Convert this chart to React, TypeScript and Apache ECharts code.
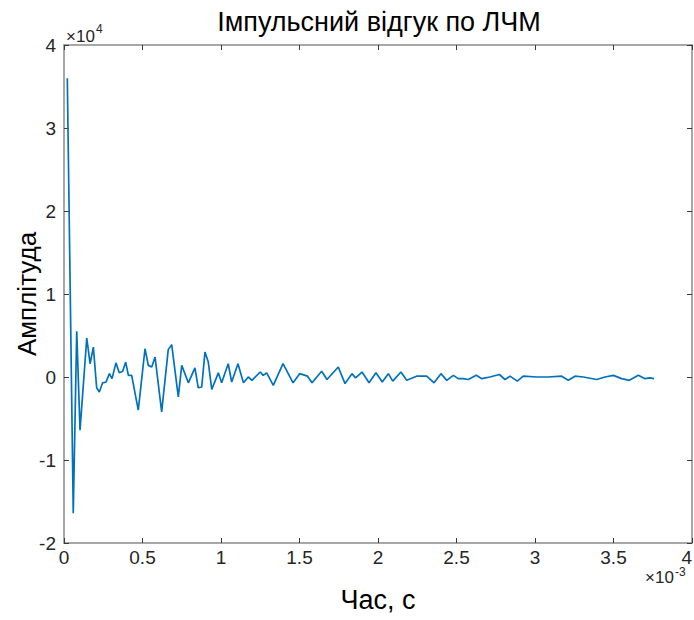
import React, { useEffect, useRef } from "react";
import * as echarts from "echarts";

// time in ms (axis shows ×10^-3 s), amplitude in units of 10^4
const timeMs = [
  0.021, 0.059, 0.081, 0.102, 0.145, 0.166, 0.187, 0.208, 0.225, 0.246,
  0.268, 0.289, 0.306, 0.331, 0.352, 0.374, 0.393, 0.41, 0.431, 0.473,
  0.516, 0.537, 0.559, 0.58, 0.622, 0.664, 0.686, 0.728, 0.75, 0.792,
  0.834, 0.855, 0.877, 0.898, 0.919, 0.941, 0.983, 1.004, 1.046, 1.068,
  1.108, 1.143, 1.174, 1.197, 1.25, 1.269, 1.291, 1.333, 1.395, 1.459,
  1.501, 1.551, 1.58, 1.641, 1.675, 1.747, 1.79, 1.834, 1.857, 1.898,
  1.943, 1.987, 2.027, 2.066, 2.094, 2.146, 2.183, 2.246, 2.31, 2.357,
  2.401, 2.438, 2.48, 2.511, 2.543, 2.575, 2.626, 2.661, 2.713, 2.773,
  2.809, 2.841, 2.887, 2.925, 3.011, 3.083, 3.17, 3.212, 3.255, 3.308,
  3.393, 3.446, 3.499, 3.552, 3.601, 3.658, 3.701, 3.732, 3.758,
];
const amplitude = [
  3.6, -1.64, 0.55, -0.64, 0.47, 0.16, 0.36, -0.13, -0.18, -0.07,
  -0.06, 0.04, -0.02, 0.17, 0.05, 0.07, 0.18, 0.02, 0.02, -0.4,
  0.34, 0.14, 0.12, 0.24, -0.42, 0.33, 0.39, -0.24, 0.14, -0.07,
  0.11, -0.13, -0.12, 0.3, 0.18, -0.15, 0.05, -0.07, 0.16, -0.06,
  0.16, -0.07, 0.0, -0.04, 0.06, 0.02, 0.05, -0.1, 0.16, -0.07,
  0.04, 0.01, -0.07, 0.07, -0.03, 0.12, -0.08, 0.04, -0.01, 0.06,
  -0.07, 0.05, -0.06, 0.04, -0.05, 0.06, -0.04, 0.01, 0.01, -0.07,
  0.04, -0.04, 0.02, -0.02, -0.02, -0.03, 0.02, -0.02, 0.0, 0.03,
  -0.03, 0.01, -0.05, 0.01, 0.0, 0.0, 0.01, -0.04, 0.01, 0.0,
  -0.03, 0.0, 0.02, -0.02, -0.04, 0.02, -0.02, -0.01, -0.02,
];

const xRange = [0, 4];
const xStep = 0.5;
const yRange = [-2, 4];
const yStep = 1;

const titleText = "Імпульсний відгук по ЛЧМ";
const xName = "Час, с";
const yName = "Амплітуда";
const yExponent = "4";
const xExponent = "-3";

const FONT = "'Liberation Sans', Arial, Helvetica, sans-serif";
const AXIS_COLOR = "#8a8a8a";
const TICK_COLOR = "#3a3a3a";
const LABEL_COLOR = "#262626";

export default function App() {
  const ref = useRef<HTMLDivElement>(null);
  useEffect(() => {
    if (!ref.current) return;
    const chart = echarts.init(ref.current, undefined, { renderer: "svg" });
    const gridLeft = 64;
    const gridTop = 45;
    const gridW = 628;
    const gridH = 498;
    const axisLine = { show: true, onZero: false, lineStyle: { color: AXIS_COLOR, width: 1.5 } };
    const axisTick = { show: true, inside: true, length: 5, lineStyle: { color: TICK_COLOR, width: 1 } };
    chart.setOption({
      animation: false,
      backgroundColor: "#ffffff",
      title: {
        text: titleText,
        left: gridLeft + gridW / 2 - 4,
        top: 3,
        textAlign: "center",
        textStyle: { fontFamily: FONT, fontSize: 27, fontWeight: "normal", color: "#000000" },
      },
      grid: {
        left: gridLeft,
        top: gridTop,
        width: gridW,
        height: gridH,
        containLabel: false,
        outerBoundsMode: "none",
      },
      xAxis: [
        {
          type: "value",
          position: "bottom",
          min: xRange[0],
          max: xRange[1],
          interval: xStep,
          axisLine,
          axisTick,
          splitLine: { show: false },
          axisLabel: {
            fontFamily: FONT,
            fontSize: 19,
            color: LABEL_COLOR,
            margin: 5,
            alignMaxLabel: "right",
            lineHeight: 19,
          },
          name: xName,
          nameLocation: "middle",
          nameGap: 43,
          nameMoveOverlap: false,
          nameTextStyle: { fontFamily: FONT, fontSize: 27, color: "#000000" },
        },
        {
          type: "value",
          position: "top",
          min: xRange[0],
          max: xRange[1],
          interval: xStep,
          axisLine,
          axisTick,
          splitLine: { show: false },
          axisLabel: { show: false },
        },
      ],
      yAxis: [
        {
          type: "value",
          position: "left",
          min: yRange[0],
          max: yRange[1],
          interval: yStep,
          axisLine,
          axisTick,
          splitLine: { show: false },
          axisLabel: { fontFamily: FONT, fontSize: 19, color: LABEL_COLOR, margin: 8 },
          name: yName,
          nameLocation: "middle",
          nameGap: 24,
          nameMoveOverlap: false,
          nameTextStyle: { fontFamily: FONT, fontSize: 26, color: "#000000" },
        },
        {
          type: "value",
          position: "right",
          min: yRange[0],
          max: yRange[1],
          interval: yStep,
          axisLine,
          axisTick,
          splitLine: { show: false },
          axisLabel: { show: false },
        },
      ],
      graphic: [
        { type: "text", x: 66, y: 28, style: { text: "×10", font: `17px ${FONT}`, fill: LABEL_COLOR } },
        { type: "text", x: 96, y: 23, style: { text: yExponent, font: `12px ${FONT}`, fill: LABEL_COLOR } },
        { type: "text", x: 645, y: 569, style: { text: "×10", font: `17px ${FONT}`, fill: LABEL_COLOR } },
        { type: "text", x: 675, y: 566, style: { text: xExponent, font: `12px ${FONT}`, fill: LABEL_COLOR } },
      ],
      series: [
        {
          type: "line",
          xAxisIndex: 0,
          yAxisIndex: 0,
          data: timeMs.map((t, i) => [t, amplitude[i]]),
          showSymbol: false,
          symbol: "none",
          lineStyle: { color: "#0072BD", width: 1.7 },
        },
      ],
    });
    return () => chart.dispose();
  }, []);
  return (
    <div
      ref={ref}
      style={{ position: "absolute", left: 0, top: 0, width: 694, height: 620, background: "#fff" }}
    />
  );
}
